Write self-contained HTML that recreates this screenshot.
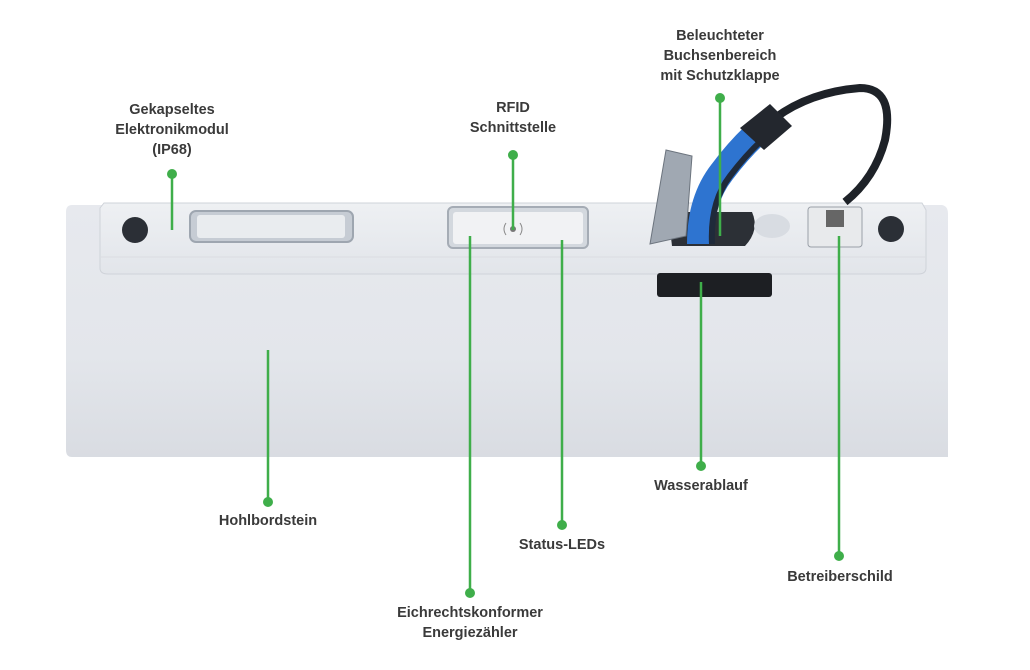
<!DOCTYPE html>
<html><head><meta charset="utf-8"><style>
body{margin:0;width:1030px;height:670px;background:#fff;overflow:hidden;position:relative;font-family:"Liberation Sans",Arial,sans-serif}
.t{position:absolute;font-weight:bold;font-size:14.5px;color:#3a3a3a;text-align:center;line-height:20px;transform:translateX(-50%);white-space:nowrap}
</style></head><body>
<svg width="1030" height="670" style="position:absolute;left:0;top:0">
<defs>
<linearGradient id="bd" x1="0" y1="0" x2="0" y2="1"><stop offset="0" stop-color="#e7e9ee"/><stop offset="0.6" stop-color="#e3e6eb"/><stop offset="1" stop-color="#d9dce2"/></linearGradient>
<linearGradient id="ld" x1="0" y1="0" x2="0" y2="1"><stop offset="0" stop-color="#eef0f3"/><stop offset="1" stop-color="#e2e5ea"/></linearGradient>
</defs>
<path d="M72 205 L112 205 L112 273 L920 273 L920 205 L942 205 Q948 206 948 214 L948 457 L72 457 Q66 457 66 450 L66 212 Q66 205 72 205Z" fill="url(#bd)"/>
<path d="M104 203 L922 203 L926 210 L926 268 Q926 274 918 274 L108 274 Q100 274 100 268 L100 208Z" fill="url(#ld)" stroke="#cfd3d9" stroke-width="1"/>
<line x1="100" y1="257" x2="926" y2="257" stroke="#dadde2"/>
<circle cx="135" cy="230" r="13" fill="#2b2f36"/>
<circle cx="891" cy="229" r="13" fill="#2b2f36"/>
<rect x="190" y="211" width="163" height="31" rx="6" fill="#c6ccd4" stroke="#9ea6b0" stroke-width="2"/>
<rect x="197" y="215" width="148" height="23" rx="3" fill="#e9ecef"/>
<rect x="448" y="207" width="140" height="41" rx="5" fill="#d3d8de" stroke="#a5acb5" stroke-width="2"/>
<rect x="453" y="212" width="130" height="32" rx="3" fill="#f1f2f4"/>
<circle cx="513" cy="229" r="3" fill="#777"/>
<path d="M506 223 Q502 229 506 235 M520 223 Q524 229 520 235" stroke="#888" fill="none"/>
<rect x="657" y="273" width="115" height="24" rx="3" fill="#1d1f23"/>
<path d="M668 212 L752 212 Q760 230 745 246 L672 246Z" fill="#2c3036"/>
<ellipse cx="772" cy="226" rx="18" ry="12" fill="#d8dce2"/>
<path d="M666 150 L692 156 L686 236 L650 244 Z" fill="#a0a8b2" stroke="#6c747e"/>
<path d="M775 118 Q810 92 860 88 Q895 88 885 140 Q875 178 845 202" stroke="#1e2228" stroke-width="8" fill="none"/>
<path d="M700 244 Q700 200 722 172 Q740 148 758 132" stroke="#2e74d0" stroke-width="26" fill="none"/>
<path d="M712 244 Q710 202 730 176 Q745 156 762 140" stroke="#1f2a3a" stroke-width="6" fill="none"/>
<path d="M740 128 L770 104 L792 126 L764 150Z" fill="#23272e"/>
<rect x="808" y="207" width="54" height="40" rx="3" fill="#e8eaec" stroke="#9aa0a8"/>
<rect x="826" y="210" width="18" height="17" fill="#666"/>
<g stroke="#3fae4a" stroke-width="2.5">
<line x1="172" y1="174" x2="172" y2="230"/>
<line x1="513" y1="155" x2="513" y2="230"/>
<line x1="720" y1="98" x2="720" y2="236"/>
<line x1="268" y1="350" x2="268" y2="502"/>
<line x1="470" y1="236" x2="470" y2="593"/>
<line x1="562" y1="240" x2="562" y2="525"/>
<line x1="701" y1="282" x2="701" y2="466"/>
<line x1="839" y1="236" x2="839" y2="556"/>
</g>
<g fill="#3fae4a">
<circle cx="172" cy="174" r="5"/><circle cx="513" cy="155" r="5"/><circle cx="720" cy="98" r="5"/>
<circle cx="268" cy="502" r="5"/><circle cx="470" cy="593" r="5"/><circle cx="562" cy="525" r="5"/>
<circle cx="701" cy="466" r="5"/><circle cx="839" cy="556" r="5"/>
</g>
</svg>
<div class="t" style="left:172px;top:100px">Gekapseltes<br>Elektronikmodul<br>(IP68)</div>
<div class="t" style="left:513px;top:98px">RFID<br>Schnittstelle</div>
<div class="t" style="left:720px;top:26px">Beleuchteter<br>Buchsenbereich<br>mit Schutzklappe</div>
<div class="t" style="left:268px;top:511px">Hohlbordstein</div>
<div class="t" style="left:470px;top:603px">Eichrechtskonformer<br>Energiezähler</div>
<div class="t" style="left:562px;top:535px">Status-LEDs</div>
<div class="t" style="left:701px;top:476px">Wasserablauf</div>
<div class="t" style="left:840px;top:567px">Betreiberschild</div>
</body></html>
